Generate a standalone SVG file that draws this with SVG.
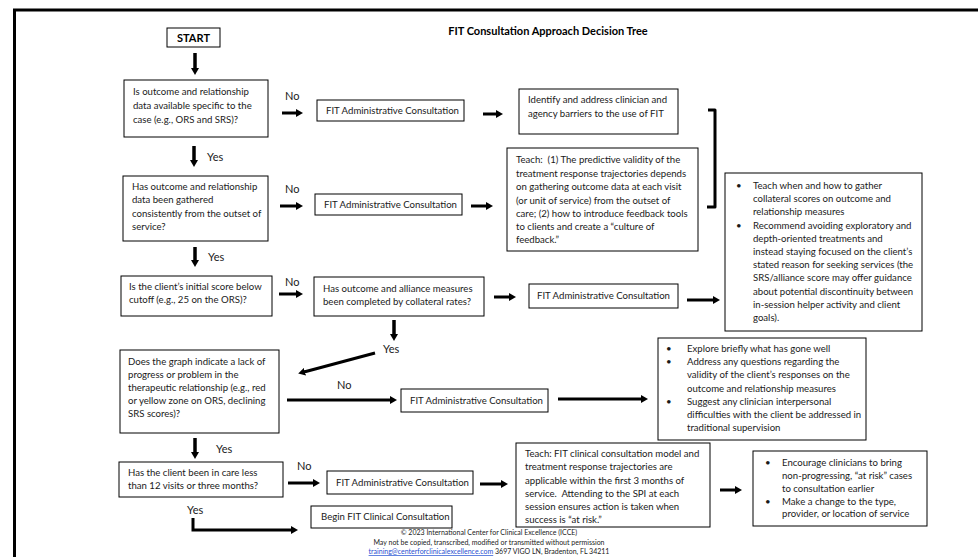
<svg xmlns="http://www.w3.org/2000/svg" width="978" height="557" viewBox="0 0 978 557">
<style>
.t{font-family:Lato,"Liberation Sans",sans-serif;font-size:9.6px;fill:#1a1a1a}
.ttl{font-family:Lato,"Liberation Sans",sans-serif;font-size:11px;font-weight:bold;fill:#000}
.lab{font-family:Lato,"Liberation Sans",sans-serif;font-size:11px;fill:#1a1a1a}
.ft{font-family:Lato,"Liberation Sans",sans-serif;font-size:7px;fill:#222;text-anchor:middle}
.box{fill:#fff;stroke:#000;stroke-width:1}
.arr{stroke:#000;stroke-width:3;fill:none;marker-end:url(#ah)}
.varr{stroke:#000;stroke-width:3.5;fill:none;marker-end:url(#ah)}
</style>
<defs>
<marker id="ah" markerUnits="userSpaceOnUse" markerWidth="7" markerHeight="8" refX="1" refY="4" orient="auto" viewBox="0 0 7 8"><path d="M0,0 L7,4 L0,8 z" fill="#000"/></marker>
</defs>
<rect width="978" height="557" fill="#fff"/>
<g id="frame"><path d="M14.5,557 L14.5,10 L978,10" fill="none" stroke="#000" stroke-width="3"/></g>
<text class="ttl" x="548" y="35" text-anchor="middle">FIT Consultation Approach Decision Tree</text>

<g id="start"><rect class="box" x="167" y="28" width="53" height="19"/><text class="ttl" x="193.5" y="41.5" text-anchor="middle">START</text></g>

<g id="q1"><rect class="box" x="124" y="80" width="144" height="57"/>
<text class="t" x="133" y="95">Is outcome and relationship</text>
<text class="t" x="133" y="109">data available specific to the</text>
<text class="t" x="133" y="123">case (e.g., ORS and SRS)?</text></g>

<g id="admin1"><rect class="box" x="317" y="100" width="147" height="21"/><text class="t" x="326" y="114">FIT Administrative Consultation</text></g>

<g id="identify"><rect class="box" x="519" y="89" width="159" height="45"/>
<text class="t" x="528" y="103">Identify and address clinician and</text>
<text class="t" x="528" y="117">agency barriers to the use of FIT</text></g>

<g id="q2"><rect class="box" x="123" y="176" width="145" height="65"/>
<text class="t" x="132" y="190">Has outcome and relationship</text>
<text class="t" x="132" y="203">data been gathered</text>
<text class="t" x="132" y="217">consistently from the outset of</text>
<text class="t" x="132" y="230">service?</text></g>

<g id="admin2"><rect class="box" x="315" y="194" width="147" height="21"/><text class="t" x="324" y="208">FIT Administrative Consultation</text></g>

<g id="teach1"><rect class="box" x="507" y="148" width="191" height="103"/>
<text class="t" x="516" y="163">Teach:&#160; (1) The predictive validity of the</text>
<text class="t" x="516" y="177">treatment response trajectories depends</text>
<text class="t" x="516" y="190">on gathering outcome data at each visit</text>
<text class="t" x="516" y="204">(or unit of service) from the outset of</text>
<text class="t" x="516" y="217">care; (2) how to introduce feedback tools</text>
<text class="t" x="516" y="230">to clients and create a “culture of</text>
<text class="t" x="516" y="243">feedback.”</text></g>

<g id="right1"><rect class="box" x="725" y="173" width="197" height="158"/>
<text class="t" x="736" y="189">•</text><text class="t" x="753" y="189">Teach when and how to gather</text>
<text class="t" x="753" y="202">collateral scores on outcome and</text>
<text class="t" x="753" y="215">relationship measures</text>
<text class="t" x="736" y="229">•</text><text class="t" x="753" y="229">Recommend avoiding exploratory and</text>
<text class="t" x="753" y="242">depth-oriented treatments and</text>
<text class="t" x="753" y="255">instead staying focused on the client’s</text>
<text class="t" x="753" y="268">stated reason for seeking services (the</text>
<text class="t" x="753" y="281">SRS/alliance score may offer guidance</text>
<text class="t" x="753" y="295">about potential discontinuity between</text>
<text class="t" x="753" y="308">in-session helper activity and client</text>
<text class="t" x="753" y="321">goals).</text></g>

<g id="q3"><rect class="box" x="121" y="276" width="151" height="40"/>
<text class="t" x="129" y="290">Is the client’s initial score below</text>
<text class="t" x="129" y="303">cutoff (e.g., 25 on the ORS)?</text></g>

<g id="q3b"><rect class="box" x="314" y="277" width="170" height="39"/>
<text class="t" x="323" y="292">Has outcome and alliance measures</text>
<text class="t" x="323" y="305">been completed by collateral rates?</text></g>

<g id="admin3"><rect class="box" x="529" y="284" width="149" height="24"/><text class="t" x="537" y="299">FIT Administrative Consultation</text></g>

<g id="q4"><rect class="box" x="120" y="350" width="159" height="83"/>
<text class="t" x="128" y="365">Does the graph indicate a lack of</text>
<text class="t" x="128" y="378">progress or problem in the</text>
<text class="t" x="128" y="391">therapeutic relationship (e.g., red</text>
<text class="t" x="128" y="404">or yellow zone on ORS, declining</text>
<text class="t" x="128" y="417">SRS scores)?</text></g>

<g id="admin4"><rect class="box" x="401" y="389" width="147" height="23"/><text class="t" x="410" y="404">FIT Administrative Consultation</text></g>

<g id="right2"><rect class="box" x="658" y="338" width="208" height="102"/>
<text class="t" x="666" y="352">•</text><text class="t" x="687" y="352">Explore briefly what has gone well</text>
<text class="t" x="666" y="365">•</text><text class="t" x="687" y="365">Address any questions regarding the</text>
<text class="t" x="687" y="378">validity of the client’s responses on the</text>
<text class="t" x="687" y="392">outcome and relationship measures</text>
<text class="t" x="666" y="405">•</text><text class="t" x="687" y="405">Suggest any clinician interpersonal</text>
<text class="t" x="687" y="418">difficulties with the client be addressed in</text>
<text class="t" x="687" y="431">traditional supervision</text></g>

<g id="q5"><rect class="box" x="119" y="462" width="164" height="35"/>
<text class="t" x="128" y="476">Has the client been in care less</text>
<text class="t" x="128" y="489">than 12 visits or three months?</text></g>

<g id="admin5"><rect class="box" x="327" y="471" width="146" height="23"/><text class="t" x="336" y="486">FIT Administrative Consultation</text></g>

<g id="begin"><rect class="box" x="311" y="506" width="141" height="22"/><text class="t" x="321" y="520">Begin FIT Clinical Consultation</text></g>

<g id="teach2"><rect class="box" x="516" y="443" width="194" height="84"/>
<text class="t" x="525" y="457">Teach: FIT clinical consultation model and</text>
<text class="t" x="525" y="470">treatment response trajectories are</text>
<text class="t" x="525" y="484">applicable within the first 3 months of</text>
<text class="t" x="525" y="497">service.&#160; Attending to the SPI at each</text>
<text class="t" x="525" y="510">session ensures action is taken when</text>
<text class="t" x="525" y="523">success is “at risk.”</text></g>

<g id="right3"><rect class="box" x="753" y="451" width="174" height="75"/>
<text class="t" x="765" y="466">•</text><text class="t" x="782" y="466">Encourage clinicians to bring</text>
<text class="t" x="782" y="479">non-progressing, “at risk” cases</text>
<text class="t" x="782" y="492">to consultation earlier</text>
<text class="t" x="765" y="505">•</text><text class="t" x="782" y="505">Make a change to the type,</text>
<text class="t" x="782" y="517">provider, or location of service</text></g>

<g id="connectors">
<line class="varr" x1="195" y1="53" x2="195" y2="69"/>
<line class="arr" x1="282" y1="113" x2="297" y2="113"/>
<line class="arr" x1="483" y1="114" x2="497" y2="114"/>
<line class="varr" x1="194" y1="146" x2="194" y2="161"/>
<line class="arr" x1="280" y1="206" x2="297" y2="206"/>
<line class="arr" x1="471" y1="206" x2="487" y2="206"/>
<path d="M708,110 L715,110 L715,207 L707,207" fill="none" stroke="#000" stroke-width="3" stroke-linejoin="round"/>
<line class="varr" x1="195" y1="247" x2="195" y2="261"/>
<line class="arr" x1="279" y1="294" x2="297" y2="294"/>
<line class="arr" x1="494" y1="297" x2="510" y2="297"/>
<line class="arr" x1="687" y1="300" x2="714" y2="300"/>
<line class="varr" x1="394" y1="320" x2="394" y2="335"/>
<line class="arr" x1="375" y1="353" x2="304" y2="372"/>
<line class="arr" x1="287" y1="400" x2="391" y2="400"/>
<line class="arr" x1="558" y1="399" x2="642" y2="399"/>
<line class="varr" x1="195" y1="438" x2="195" y2="453"/>
<line class="arr" x1="288" y1="483" x2="314" y2="483"/>
<line class="arr" x1="480" y1="484" x2="502" y2="484"/>
<line class="arr" x1="720" y1="490" x2="736" y2="490"/>
<path class="arr" d="M193,518 L193,530 L292,530"/>
</g>

<g id="labels">
<text class="lab" x="285" y="100">No</text>
<text class="lab" x="207" y="161">Yes</text>
<text class="lab" x="285" y="193">No</text>
<text class="lab" x="208" y="261">Yes</text>
<text class="lab" x="285" y="286">No</text>
<text class="lab" x="383" y="353">Yes</text>
<text class="lab" x="337" y="389">No</text>
<text class="lab" x="216" y="453">Yes</text>
<text class="lab" x="297" y="470">No</text>
<text class="lab" x="187" y="514">Yes</text>
</g>

<g id="footer">
<text class="ft" x="489" y="535">© 2023 International Center for Clinical Excellence (ICCE)</text>
<text class="ft" x="489" y="545">May not be copied, transcribed, modified or transmitted without permission</text>
<text class="ft" x="489" y="554"><tspan fill="#1f4fd1" text-decoration="underline">training@centerforclinicalexcellence.com</tspan> 3697 VIGO LN, Bradenton, FL 34211</text>
</g>
</svg>
